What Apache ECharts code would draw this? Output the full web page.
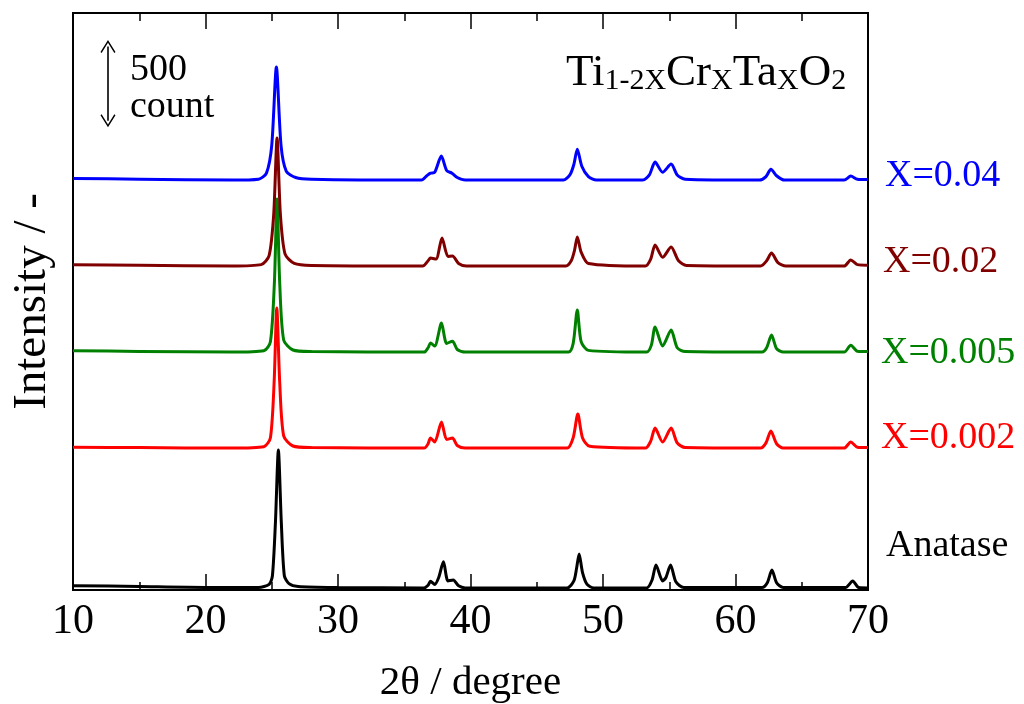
<!DOCTYPE html>
<html>
<head>
<meta charset="utf-8">
<script src="https://cdn.jsdelivr.net/npm/echarts@6/dist/echarts.min.js"></script>
<style>html,body{margin:0;padding:0;background:#fff}#c{width:1024px;height:704px}</style>
</head>
<body>
<div id="c"></div>
<script>
// ---- data (2θ in degree, intensity in counts above each pattern's own baseline) ----
const seriesNames = ['Anatase', 'X=0.002', 'X=0.005', 'X=0.02', 'X=0.04'];
const seriesColors = ['#000000', '#ff0000', '#008000', '#800000', '#0000ff'];
const offsets = [12, 816, 1368, 1863, 2357];   // vertical stacking offsets (counts)

const anatase = [
  [10,13],[15,8],[20,3],[24.0,3],[24.8,20],[25.05,70],[25.28,380],[25.5,793],[25.72,380],[25.95,70],[26.3,25],[27,8],[30,2],
  [36.5,0],[36.8,15],[36.98,38],[37.3,20],[37.6,60],[37.96,150],[38.3,40],[38.7,46],[39.1,12],[39.6,0],
  [47.3,0],[47.8,40],[48.0,110],[48.2,195],[48.45,90],[48.8,20],[49.3,0],
  [53.3,0],[53.7,45],[54.0,132],[54.5,40],[54.75,60],[55.1,132],[55.5,35],[56.1,2],
  [62.0,2],[62.4,30],[62.75,103],[63.1,30],[63.6,2],
  [68.3,2],[68.85,40],[69.3,2],[70,0]
];
const x002 = [
  [10,5],[15,3],[22,0],[24.4,8],[24.9,60],[25.18,380],[25.38,805],[25.6,380],[25.9,70],[26.6,12],[28,3],
  [36.5,0],[36.8,25],[36.98,58],[37.3,35],[37.81,150],[38.2,50],[38.64,58],[39.0,15],[39.6,0],
  [47.3,0],[47.75,60],[48.1,196],[48.45,60],[49.0,10],
  [53.2,0],[53.6,40],[53.93,115],[54.5,35],[55.14,115],[55.6,30],[56.2,3],
  [61.9,0],[62.3,30],[62.67,98],[63.1,25],[63.6,0],
  [68.2,0],[68.7,35],[69.2,5],[70,3]
];
const x005 = [
  [10,8],[15,4],[22,0],[24.4,8],[24.9,60],[25.2,400],[25.4,880],[25.6,400],[25.9,70],[26.6,12],[28,3],
  [36.5,0],[36.8,25],[36.98,52],[37.3,35],[37.81,167],[38.2,50],[38.64,63],[39.0,15],[39.6,0],
  [47.4,0],[47.75,50],[48.06,242],[48.35,60],[48.9,10],
  [53.3,0],[53.65,40],[53.93,144],[54.5,35],[55.14,127],[55.6,25],[56.2,3],
  [62.0,0],[62.35,25],[62.72,98],[63.1,20],[63.6,0],
  [68.2,0],[68.7,40],[69.2,5],[70,3]
];
const x02 = [
  [10,8],[15,4],[22,0],[24.2,8],[24.8,60],[25.15,300],[25.4,736],[25.65,300],[26.0,70],[26.7,15],[28,3],
  [36.4,0],[36.8,30],[36.98,46],[37.4,40],[37.85,161],[38.3,55],[38.64,58],[39.1,15],[39.7,0],
  [47.2,0],[47.6,30],[47.85,90],[48.06,167],[48.35,80],[48.9,15],
  [53.2,0],[53.6,40],[53.93,121],[54.5,50],[55.14,109],[55.7,30],[56.3,3],
  [61.9,0],[62.35,30],[62.72,75],[63.2,20],[63.8,0],
  [68.2,0],[68.7,35],[69.2,8],[70,5]
];
const x04 = [
  [10,10],[15,5],[22,0],[24.0,5],[24.6,40],[25.0,200],[25.35,650],[25.7,200],[26.1,50],[26.8,15],[28,5],
  [36.3,0],[36.7,25],[36.98,40],[37.3,45],[37.8,138],[38.2,55],[38.6,40],[39.0,15],[39.6,0],
  [47.0,0],[47.5,30],[47.8,90],[48.06,178],[48.4,80],[48.9,20],[49.5,0],
  [53.0,0],[53.5,30],[53.93,104],[54.5,45],[55.14,92],[55.6,30],[56.2,5],
  [61.8,0],[62.3,20],[62.67,63],[63.1,25],[63.7,0],
  [68.2,0],[68.7,23],[69.2,5],[70,3]
];
const patterns = [anatase, x002, x005, x02, x04];
const xTicks = [10, 20, 30, 40, 50, 60, 70];
const scaleBar = { x: 12.64, top: 3162, size: 500 };  // "500 count" arrow

// ---- chart ----
const chart = echarts.init(document.getElementById('c'), null, {renderer: 'canvas'});
const FONT = '"Liberation Serif", "Times New Roman", serif';

const series = patterns.map((p, i) => ({
  name: seriesNames[i],
  type: 'line',
  showSymbol: false,
  smooth: 0.25,
  animation: false,
  silent: true,
  lineStyle: {color: seriesColors[i], width: 3},
  data: p.map(d => [d[0], d[1] + offsets[i]]),
  z: 2 + i
}));

// arrow heads are centred on the line ends; pull the ends in so the tips sit on the 500-count span
const headInset = 37;
const ARROW = 'path://M8.5,0 L17,12 L15.7,13 L8.5,2.6 L1.3,13 L0,12 Z';
series.push({
  type: 'line', data: [], silent: true, animation: false,
  markLine: {
    silent: true, animation: false,
    symbol: [ARROW, ARROW],
    symbolSize: [15, 13],
    label: {show: false},
    lineStyle: {color: '#000', width: 1.6, type: 'solid'},
    data: [[{coord: [scaleBar.x, scaleBar.top - headInset]}, {coord: [scaleBar.x, scaleBar.top - scaleBar.size + headInset]}]]
  }
});

const axisCommon = {
  type: 'value', min: xTicks[0], max: xTicks[xTicks.length - 1], interval: 10,
  splitLine: {show: false},
  axisLine: {show: false},
  axisTick: {show: true, inside: true, length: 16, lineStyle: {color: '#000', width: 1.5}},
  minorTick: {show: true, splitNumber: 2, length: 8, lineStyle: {color: '#000', width: 1.5}}
};

const labelLeft = 881;
chart.setOption({
  backgroundColor: '#fff',
  animation: false,
  grid: {left: 73, right: 156, top: 13, bottom: 114, show: true, borderColor: '#000', borderWidth: 2,
         backgroundColor: 'transparent', containLabel: false, outerBoundsMode: 'none'},
  xAxis: [
    Object.assign({}, axisCommon, {
      position: 'bottom',
      name: '2θ / degree', nameLocation: 'middle', nameGap: 73,
      nameTextStyle: {fontFamily: FONT, fontSize: 41, color: '#000'},
      axisLabel: {fontFamily: FONT, fontSize: 42, color: '#000', margin: 11}
    }),
    Object.assign({}, axisCommon, {position: 'top', axisLabel: {show: false}})
  ],
  yAxis: [{
    type: 'value', min: 0, max: 3318,
    axisLine: {show: false}, axisTick: {show: false}, axisLabel: {show: false}, splitLine: {show: false},
    name: 'Intensity / -', nameLocation: 'middle', nameGap: 17, nameRotate: 90,
    nameTextStyle: {fontFamily: FONT, fontSize: 47, color: '#000'}
  }],
  graphic: [
    {type: 'text', left: 130, top: 51, style: {text: '500', font: '38px ' + FONT, fill: '#000'}},
    {type: 'text', left: 130, top: 88, style: {text: 'count', font: '38px ' + FONT, fill: '#000'}},
    {type: 'text', left: 566, top: 51, style: {
      text: '{m|Ti}{s|1-2X}{m|Cr}{s|X}{m|Ta}{s|X}{m|O}{s|2}',
      rich: {
        m: {fontFamily: FONT, fontSize: 45, lineHeight: 45, verticalAlign: 'bottom', fill: '#000', color: '#000'},
        s: {fontFamily: FONT, fontSize: 30, lineHeight: 24, verticalAlign: 'bottom', fill: '#000', color: '#000'}
      }
    }},
    {type: 'text', left: 885, top: 157, style: {text: 'X=0.04', font: '38px ' + FONT, fill: seriesColors[4]}},
    {type: 'text', left: 883, top: 243, style: {text: 'X=0.02', font: '38px ' + FONT, fill: seriesColors[3]}},
    {type: 'text', left: labelLeft, top: 334, style: {text: 'X=0.005', font: '38px ' + FONT, fill: seriesColors[2]}},
    {type: 'text', left: labelLeft, top: 419, style: {text: 'X=0.002', font: '38px ' + FONT, fill: seriesColors[1]}},
    {type: 'text', left: 886, top: 527, style: {text: 'Anatase', font: '38px ' + FONT, fill: seriesColors[0]}}
  ],
  series: series
});
</script>
</body>
</html>
